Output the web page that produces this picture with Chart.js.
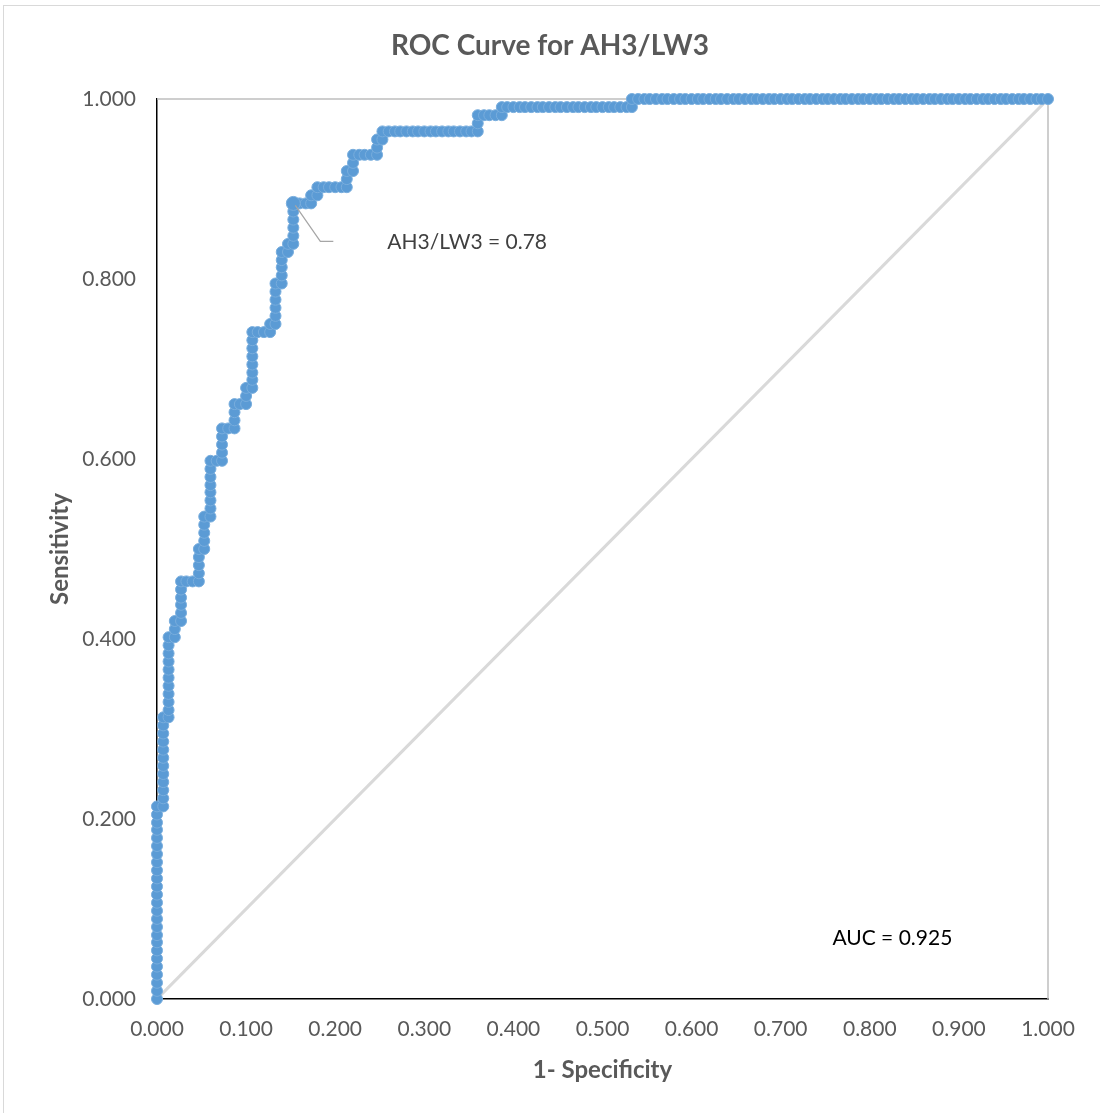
<!DOCTYPE html>
<html>
<head>
<meta charset="utf-8">
<title>ROC Curve for AH3/LW3</title>
<script src="https://cdn.jsdelivr.net/npm/chart.js@4.4.1/dist/chart.umd.min.js"></script>
<style>
    html, body { margin: 0; padding: 0; background: #fff; overflow: hidden; }
    #wrap { position: relative; width: 1100px; height: 1113px; }
    #frame { position: absolute; left: 3px; top: 5px; width: 1110px; height: 1120px; border: 1px solid #D9D9D9; pointer-events: none; }
    canvas { display: block; }
</style>
</head>
<body>
<div id="wrap">
    <canvas id="rocChart" width="1100" height="1113"></canvas>
    <div id="frame"></div>
</div>
<script>
// 1 - specificity, one value per threshold
const fpr = [
    0, 0, 0, 0, 0, 0, 0, 0, 0, 0, 0, 0, 0, 0, 0, 0, 0, 0, 0, 0, 0, 0, 0, 0, 0,
    0.007, 0.007, 0.007, 0.007, 0.007, 0.007, 0.007, 0.007, 0.007, 0.007, 0.007, 0.007,
    0.013, 0.013, 0.013, 0.013, 0.013, 0.013, 0.013, 0.013, 0.013, 0.013, 0.013,
    0.020, 0.020, 0.020,
    0.027, 0.027, 0.027, 0.027, 0.027, 0.027,
    0.033, 0.040,
    0.047, 0.047, 0.047, 0.047, 0.047,
    0.053, 0.053, 0.053, 0.053, 0.053,
    0.060, 0.060, 0.060, 0.060, 0.060, 0.060, 0.060, 0.060,
    0.067,
    0.073, 0.073, 0.073, 0.073, 0.073,
    0.080,
    0.087, 0.087, 0.087, 0.087,
    0.093,
    0.100, 0.100, 0.100,
    0.107, 0.107, 0.107, 0.107, 0.107, 0.107, 0.107, 0.107,
    0.113, 0.120,
    0.127, 0.127,
    0.133, 0.133, 0.133, 0.133, 0.133, 0.133,
    0.140, 0.140, 0.140, 0.140, 0.140,
    0.147, 0.147,
    0.153, 0.153, 0.153, 0.153, 0.153, 0.153,
    0.160, 0.167,
    0.173, 0.173,
    0.180, 0.180,
    0.187, 0.193, 0.200, 0.207, 0.213,
    0.213, 0.213,
    0.220, 0.220, 0.220,
    0.227, 0.233, 0.240, 0.247,
    0.247, 0.247,
    0.253, 0.253,
    0.260, 0.267, 0.273, 0.280, 0.287, 0.293, 0.300, 0.307, 0.313, 0.320, 0.327, 0.333, 0.340, 0.347, 0.353, 0.360,
    0.360, 0.360,
    0.367, 0.373, 0.380, 0.387,
    0.387,
    0.393, 0.400, 0.407, 0.413, 0.420, 0.427, 0.433, 0.440, 0.447, 0.453, 0.460,
    0.467, 0.473, 0.480, 0.487, 0.493, 0.500, 0.507, 0.513, 0.520, 0.527, 0.533,
    0.533,
    0.540, 0.547, 0.553, 0.560, 0.567, 0.573, 0.580, 0.587, 0.593, 0.600,
    0.607, 0.613, 0.620, 0.627, 0.633, 0.640, 0.647, 0.653, 0.660, 0.667,
    0.673, 0.680, 0.687, 0.693, 0.700, 0.707, 0.713, 0.720, 0.727, 0.733,
    0.740, 0.747, 0.753, 0.760, 0.767, 0.773, 0.780, 0.787, 0.793, 0.800,
    0.807, 0.813, 0.820, 0.827, 0.833, 0.840, 0.847, 0.853, 0.860, 0.867,
    0.873, 0.880, 0.887, 0.893, 0.900, 0.907, 0.913, 0.920, 0.927, 0.933,
    0.940, 0.947, 0.953, 0.960, 0.967, 0.973, 0.980, 0.987, 0.993, 1.000,
];

// sensitivity, same order as fpr
const tpr = [
    0.000, 0.009, 0.018, 0.027, 0.036, 0.045, 0.054, 0.063, 0.071, 0.080, 0.089, 0.098, 0.107,
    0.116, 0.125, 0.134, 0.143, 0.152, 0.161, 0.170, 0.179, 0.188, 0.196, 0.205, 0.214,
    0.214, 0.223, 0.232, 0.241, 0.250, 0.259, 0.268, 0.277, 0.286, 0.295, 0.304, 0.313,
    0.313, 0.321, 0.330, 0.339, 0.348, 0.357, 0.366, 0.375, 0.384, 0.393, 0.402,
    0.402, 0.411, 0.420,
    0.420, 0.429, 0.438, 0.446, 0.455, 0.464,
    0.464, 0.464,
    0.464, 0.473, 0.482, 0.491, 0.500,
    0.500, 0.509, 0.518, 0.527, 0.536,
    0.536, 0.545, 0.554, 0.563, 0.571, 0.580, 0.589, 0.598,
    0.598,
    0.598, 0.607, 0.616, 0.625, 0.634,
    0.634,
    0.634, 0.643, 0.652, 0.661,
    0.661,
    0.661, 0.670, 0.679,
    0.679, 0.688, 0.696, 0.705, 0.714, 0.723, 0.732, 0.741,
    0.741, 0.741,
    0.741, 0.750,
    0.750, 0.759, 0.768, 0.777, 0.786, 0.795,
    0.795, 0.804, 0.813, 0.821, 0.830,
    0.830, 0.839,
    0.839, 0.848, 0.857, 0.866, 0.875, 0.884,
    0.884, 0.884,
    0.884, 0.893,
    0.893, 0.902,
    0.902, 0.902, 0.902, 0.902, 0.902,
    0.911, 0.920,
    0.920, 0.929, 0.938,
    0.938, 0.938, 0.938, 0.938,
    0.946, 0.955,
    0.955, 0.964,
    0.964, 0.964, 0.964, 0.964, 0.964, 0.964, 0.964, 0.964, 0.964, 0.964, 0.964, 0.964, 0.964, 0.964, 0.964, 0.964,
    0.973, 0.982,
    0.982, 0.982, 0.982, 0.982,
    0.991,
    0.991, 0.991, 0.991, 0.991, 0.991, 0.991, 0.991, 0.991, 0.991, 0.991, 0.991,
    0.991, 0.991, 0.991, 0.991, 0.991, 0.991, 0.991, 0.991, 0.991, 0.991, 0.991,
    1.000,
    1, 1, 1, 1, 1, 1, 1, 1, 1, 1,
    1, 1, 1, 1, 1, 1, 1, 1, 1, 1,
    1, 1, 1, 1, 1, 1, 1, 1, 1, 1,
    1, 1, 1, 1, 1, 1, 1, 1, 1, 1,
    1, 1, 1, 1, 1, 1, 1, 1, 1, 1,
    1, 1, 1, 1, 1, 1, 1, 1, 1, 1,
    1, 1, 1, 1, 1, 1, 1, 1, 1, 1,
];

// chance line
const diagX = [0, 1];
const diagY = [0, 1];

// chosen cut-off point
const cutoffFpr = 0.153;
const cutoffTpr = 0.884;
const cutoffLabel = 'AH3/LW3 = 0.78';
const aucLabel = 'AUC = 0.925';

const FONT = 'Lato, "Open Sans", sans-serif';
const BLUE = '#5B9BD5';

const rocPoints = fpr.map((x, i) => ({ x, y: tpr[i] }));
const diagPoints = diagX.map((x, i) => ({ x, y: diagY[i] }));

const plotFrame = {
    id: 'plotFrame',
    beforeDatasetsDraw(chart) {
        const { ctx, chartArea: { left, top, right, bottom } } = chart;
        ctx.save();
        ctx.strokeStyle = '#BFBFBF';
        ctx.lineWidth = 1.5;
        ctx.beginPath();
        ctx.moveTo(left, top);
        ctx.lineTo(right, top);
        ctx.lineTo(right, bottom);
        ctx.stroke();
        ctx.restore();
    },
};

const notes = {
    id: 'notes',
    afterDatasetsDraw(chart) {
        const { ctx, scales: { x, y } } = chart;
        const px = x.getPixelForValue(cutoffFpr);
        const py = y.getPixelForValue(cutoffTpr);

        ctx.save();
        ctx.strokeStyle = '#A6A6A6';
        ctx.lineWidth = 1.25;
        ctx.beginPath();
        ctx.moveTo(px + 2, py + 2);
        ctx.lineTo(px + 27, py + 38);
        ctx.lineTo(px + 40, py + 38);
        ctx.stroke();

        ctx.font = `21px ${FONT}`;
        ctx.textBaseline = 'middle';
        ctx.textAlign = 'left';
        ctx.fillStyle = '#404040';
        ctx.fillText(cutoffLabel, px + 94, py + 39);

        ctx.fillStyle = '#000000';
        ctx.fillText(aucLabel, x.getPixelForValue(0.758), y.getPixelForValue(0.068));
        ctx.restore();
    },
};

new Chart(document.getElementById('rocChart'), {
    type: 'scatter',
    data: {
        datasets: [
            {
                label: 'Reference',
                data: diagPoints,
                showLine: true,
                borderColor: '#D9D9D9',
                borderWidth: 3,
                pointRadius: 0,
                order: 3,
            },
            {
                label: 'ROC',
                data: rocPoints,
                showLine: true,
                borderColor: BLUE,
                borderWidth: 3,
                pointRadius: 5.5,
                pointBorderWidth: 1,
                pointBackgroundColor: BLUE,
                pointBorderColor: '#78ADDD',
                clip: false,
                order: 2,
            },
            {
                label: 'Cut-off',
                data: [{ x: cutoffFpr, y: cutoffTpr }],
                pointRadius: 7,
                pointBorderWidth: 1,
                pointBackgroundColor: BLUE,
                pointBorderColor: '#78ADDD',
                clip: false,
                order: 1,
            },
        ],
    },
    plugins: [plotFrame, notes],
    options: {
        responsive: false,
        animation: false,
        devicePixelRatio: 1,
        layout: { padding: 0 },
        plugins: {
            legend: { display: false },
            tooltip: { enabled: false },
            title: {
                display: true,
                text: 'ROC Curve for AH3/LW3',
                color: '#595959',
                font: { family: FONT, size: 28, weight: 'bold' },
                padding: { top: 29.2, bottom: 36.2 },
            },
        },
        scales: {
            x: {
                type: 'linear',
                min: 0,
                max: 1,
                grid: { display: false, drawTicks: false },
                border: { display: true, color: '#000000', width: 1.5 },
                ticks: {
                    stepSize: 0.1,
                    padding: 18,
                    color: '#595959',
                    font: { family: FONT, size: 21 },
                    maxRotation: 0,
                    callback: (value) => value.toFixed(3),
                },
                title: {
                    display: true,
                    text: '1- Specificity',
                    color: '#595959',
                    font: { family: FONT, size: 24, weight: 'bold' },
                    padding: { top: 0, bottom: 28.6 },
                },
                afterFit: (scale) => { scale.height = 114; },
            },
            y: {
                type: 'linear',
                min: 0,
                max: 1,
                grid: { display: false, drawTicks: false },
                border: { display: true, color: '#000000', width: 1.5 },
                ticks: {
                    stepSize: 0.2,
                    padding: 21,
                    color: '#595959',
                    font: { family: FONT, size: 21 },
                    callback: (value) => value.toFixed(3),
                },
                title: {
                    display: true,
                    text: 'Sensitivity',
                    color: '#595959',
                    font: { family: FONT, size: 24, weight: 'bold' },
                    padding: { top: 45.6, bottom: 0 },
                },
                afterFit: (scale) => { scale.width = 157; },
            },
            // empty right-hand axis that only reserves the margin right of the plot
            yRight: {
                type: 'linear',
                position: 'right',
                min: 0,
                max: 1,
                grid: { display: false, drawTicks: false },
                border: { display: false },
                ticks: { display: false },
                afterFit: (scale) => { scale.width = 52; },
            },
        },
    },
});
</script>
</body>
</html>
